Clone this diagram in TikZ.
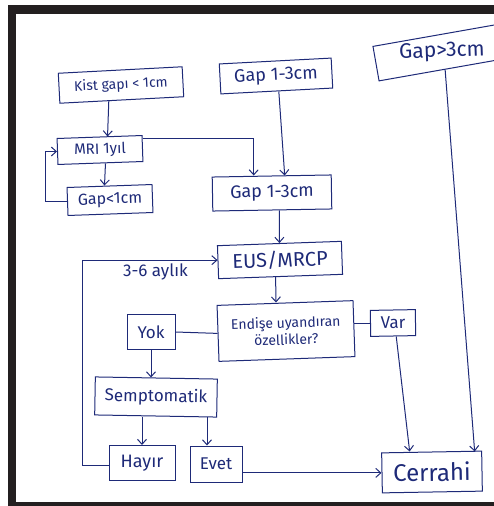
\documentclass[tikz,border=0pt]{standalone}
\usepackage{fontspec}
\setmainfont{Fira Sans}
\usetikzlibrary{positioning, arrows.meta, calc}
\definecolor{ink}{HTML}{1E2A78}
\definecolor{framedark}{HTML}{231F20}
\newcommand{\inksize}[2]{\fontsize{#1}{#2}\selectfont}

\begin{document}
\begin{tikzpicture}[
  x=1pt, y=-1pt,
  inkbox/.style={
    draw=ink,
    line width=1pt,
    rectangle,
    inner sep=0pt,
    align=center,
    text=ink
  },
  inkline/.style={draw=ink, line width=1pt},
  inkarrow/.style={inkline, -{Straight Barb[length=5pt,width=9pt]}}
]

  % --- Photo frame ---
  \useasboundingbox (0,0) rectangle (494,506);
  \clip (0,0) rectangle (494,506);
  \fill[white] (0,0) rectangle (494,506);
  \fill[framedark] (8,5) rectangle (494,14);
  \fill[framedark] (8,5) rectangle (16,506);
  \fill[framedark] (8,502) rectangle (494,506);

  % --- Boxes ---
  \node[inkbox, minimum width=124pt, minimum height=30pt, rotate=3, font=\inksize{14}{16}]
       (kist) at (121,85) {Kist gapı < 1cm};
  \node[inkbox, minimum width=112pt, minimum height=30pt, rotate=3, font=\inksize{18}{20}]
       (gaptop) at (276,76) {Gap 1-3cm};
  \node[inkbox, minimum width=134pt, minimum height=35pt, rotate=10, font=\inksize{21}{23}]
       (gapbig) at (442,52) {\rotatebox{-8}{Gap>3cm}};
  \node[inkbox, minimum width=85pt, minimum height=26pt, rotate=2, font=\inksize{15}{17}]
       (mri) at (100,150) {MRI 1yıl};
  \node[inkbox, minimum width=85pt, minimum height=28pt, rotate=2, font=\inksize{16}{18}]
       (gapsmall) at (110,200) {Gap<1cm};
  \node[inkbox, minimum width=119pt, minimum height=34pt, rotate=1, font=\inksize{18}{20}]
       (gapmid) at (272,193) {Gap 1-3cm};
  \node[inkbox, minimum width=124pt, minimum height=33pt, rotate=2, font=\inksize{20}{22}]
       (eus) at (280,260) {EUS/MRCP};
  \node[inkbox, minimum width=136pt, minimum height=56pt, rotate=2, font=\inksize{14}{17}]
       (endise) at (286,331) {Endişe uyandıran\\özellikler?};
  \node[inkbox, minimum width=48pt, minimum height=35pt, font=\inksize{17}{19}]
       (yok) at (151,332) {Yok};
  \node[inkbox, minimum width=45pt, minimum height=26pt, rotate=1, font=\inksize{17}{19}]
       (var) at (393,323) {Var};
  \node[inkbox, minimum width=122pt, minimum height=38pt, rotate=-1, font=\inksize{17}{19}]
       (semp) at (156,397) {Semptomatik};
  \node[inkbox, minimum width=66pt, minimum height=35pt, font=\inksize{18}{20}]
       (hayir) at (142,463) {Hayır};
  \node[inkbox, minimum width=52pt, minimum height=36pt, font=\inksize{17}{19}]
       (evet) at (216,464) {Evet};
  \node[inkbox, minimum width=100pt, minimum height=40pt, rotate=1, font=\inksize{24}{26}]
       (cerrahi) at (432,472) {Cerrahi};

  % --- Left branch ---
  \draw[inkarrow] ([xshift=-13pt]kist.south) -- ([xshift=8pt]mri.north);
  \draw[inkarrow] ([xshift=5pt]mri.south) -- ([xshift=-5pt]gapsmall.north);
  \draw[inkarrow] (gapsmall.west) -- ++(-22,0) |- (mri.west);
  \draw[inkarrow] ([yshift=10pt]mri.east) -| ([xshift=-18pt]gapmid.north);

  % --- Middle column ---
  \draw[inkarrow] ([xshift=2pt]gaptop.south) -- ([xshift=13pt]gapmid.north);
  \draw[inkarrow] ([xshift=7pt]gapmid.south) -- (eus.north);
  \draw[inkarrow] ([xshift=-5pt]eus.south) -- ([xshift=-9pt]endise.north);
  \draw[inkline] (endise.west) -- (yok.east);
  \draw[inkline] (var.west) -- (var.west -| endise.east);

  % --- Yok / Semptomatik ---
  \draw[inkarrow] (yok.south) -- (yok.south |- semp.north);
  \draw[inkarrow] (hayir.north |- semp.south) -- (hayir.north);
  \draw[inkarrow] ([xshift=-9pt]evet.north |- semp.south) -- ([xshift=-9pt]evet.north);

  % --- Follow-up loop ---
  \draw[inkarrow] ([yshift=-2pt]hayir.west) -- ++(-26,0) |- ([yshift=2pt]eus.west)
       node[pos=0.77, below, text=ink, font=\inksize{17}{19}] (aylik) {3-6 aylık};

  % --- To surgery ---
  \draw[inkarrow] (cerrahi.west -| evet.east) -- (cerrahi.west);
  \draw[inkarrow] ([xshift=3pt]var.south) -- ([xshift=-22pt]cerrahi.north);
  \draw[inkarrow] (gapbig.south) -- ([xshift=43pt]cerrahi.north);

\end{tikzpicture}
\end{document}
